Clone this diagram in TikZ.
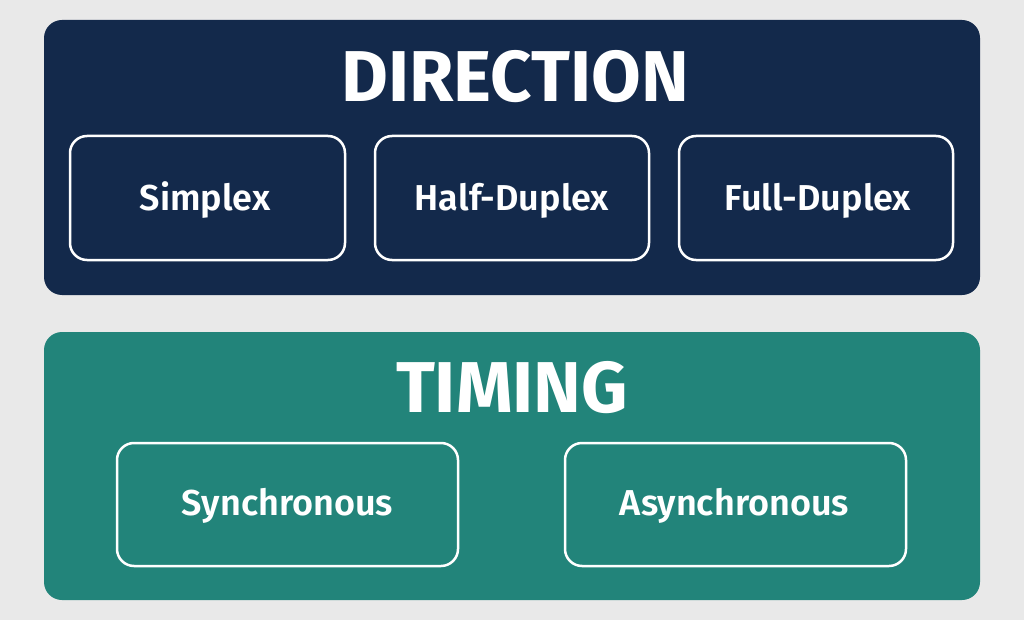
\documentclass[tikz,border=0pt]{standalone}
\usepackage{fontspec}
\setmainfont{Fira Sans}[BoldFont={* SemiBold}]
\newfontfamily\headfont{Fira Sans}[UprightFont={* Bold}]
\definecolor{bgc}{HTML}{E9E9E9}
\definecolor{navy}{HTML}{13294B}
\definecolor{teal}{HTML}{22847A}
\begin{document}
\begin{tikzpicture}[x=1pt,y=-1pt,
  panel/.style={rounded corners=18pt},
  itembox/.style={draw=white,line width=2.5pt,rounded corners=17pt},
  itemtext/.style={text=white,anchor=base,inner sep=0pt,font=\bfseries\fontsize{36}{40}\selectfont},
  headtext/.style={text=white,anchor=base,inner sep=0pt,font=\headfont\fontsize{72}{76}\selectfont}]
\fill[bgc] (0,0) rectangle (1024,620);
\useasboundingbox (0,0) rectangle (1024,620);
% Direction panel
\fill[navy,panel] (44,20) rectangle (980,295);
\node[headtext] (dir) at (515,102) {DIRECTION};
\draw[itembox] (70,136) rectangle (345,260);
\node[itemtext] (simplex) at (205,211) {Simplex};
\draw[itembox] (375,136) rectangle (649,260);
\node[itemtext] (half) at (512,211) {Half-Duplex};
\draw[itembox] (679,136) rectangle (953,260);
\node[itemtext] (full) at (818,211) {Full-Duplex};
% Timing panel
\fill[teal,panel] (44,332) rectangle (980,600);
\node[headtext] (tim) at (512,412) {TIMING};
\draw[itembox] (117,443) rectangle (458,566);
\node[itemtext] (sync) at (287.5,515) {Synchronous};
\draw[itembox] (565,443) rectangle (906,566);
\node[itemtext] (async) at (734.5,515) {Asynchronous};
\end{tikzpicture}
\end{document}
